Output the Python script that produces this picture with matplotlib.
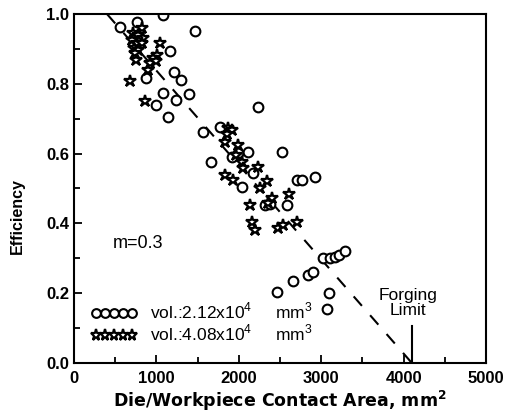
import numpy as np
import matplotlib
matplotlib.use("Agg")
import matplotlib.pyplot as plt

plt.rcParams['font.family'] = ['Liberation Sans', 'DejaVu Sans']
plt.rcParams['mathtext.fontset'] = 'custom'
plt.rcParams['mathtext.rm'] = 'Liberation Sans'

# volume 2.12x10^4 mm^3 (circles)
circ_area = [558, 765, 1085, 1468, 1165, 874, 1214, 1299, 1080, 1238, 1390, 995, 1141,
             2233, 1566, 1766, 1663, 1917, 1990, 2112, 2524, 2039, 2172, 2710, 2770,
             2930, 2318, 2379, 2591, 2464, 2658, 2834, 2906, 3095, 3070,
             3022, 3107, 3167, 3216, 3289]
circ_eff = [0.963, 0.977, 0.997, 0.951, 0.895, 0.817, 0.833, 0.812, 0.774, 0.754, 0.772, 0.739, 0.705,
            0.734, 0.661, 0.676, 0.576, 0.590, 0.602, 0.604, 0.604, 0.504, 0.544, 0.524, 0.524,
            0.533, 0.452, 0.457, 0.454, 0.203, 0.234, 0.252, 0.262, 0.201, 0.155,
            0.301, 0.301, 0.303, 0.310, 0.321]

# volume 4.08x10^4 mm^3 (stars)
star_area = [825, 716, 777, 837, 704, 765, 825, 728, 777, 740, 752, 680, 862,
             1044, 1007, 959, 922, 1000, 898,
             1869, 1917, 1857, 1833, 1990, 1966, 2039, 2051, 1833, 1930, 2233, 2136,
             2342, 2257, 2403, 2354, 2610, 2160, 2196, 2476, 2536, 2706]
star_eff = [0.960, 0.946, 0.940, 0.931, 0.925, 0.917, 0.917, 0.903, 0.897, 0.888, 0.868, 0.808, 0.751,
            0.917, 0.883, 0.874, 0.860, 0.866, 0.840,
            0.673, 0.668, 0.655, 0.633, 0.625, 0.596, 0.576, 0.559, 0.539, 0.524, 0.562, 0.453,
            0.521, 0.501, 0.473, 0.458, 0.485, 0.404, 0.381, 0.387, 0.395, 0.404]

# fitted trend and forging limit
trend_area = [400, 4100]
trend_eff = [1.0, 0.0]
limit_area = 4100
limit_eff = [0.0, 0.105]

fig = plt.figure(figsize=(5.16, 4.15), dpi=100)
ax = fig.add_axes([74/516, 52/415, 412/516, 349/415])

ax.plot(trend_area, trend_eff, color='black', lw=1.5, dashes=(6, 6))
ax.plot([limit_area, limit_area], limit_eff, color='black', lw=1.5)

ax.plot(circ_area, circ_eff, 'o', ms=7, mfc='white', mec='black', mew=1.5,
        label='vol.:2.12x10$^4$     mm$^3$')
ax.plot(star_area, star_eff, '*', ms=9, mfc='white', mec='black', mew=1.6,
        label='vol.:4.08x10$^4$     mm$^3$')

ax.set_xlim(0, 5000)
ax.set_ylim(0, 1.0)
ax.set_xticks(np.arange(0, 5001, 1000))
ax.set_xticks(np.arange(0, 5001, 500), minor=True)
ax.set_yticks(np.arange(0, 1.01, 0.2))
ax.set_yticks(np.arange(0, 1.01, 0.1), minor=True)
ax.set_yticklabels(['%.1f' % v for v in np.arange(0, 1.01, 0.2)])
ax.tick_params(which='both', direction='in', width=1.3)
ax.tick_params(which='major', length=6, labelsize=12)
ax.tick_params(axis='x', which='major', pad=6)
ax.tick_params(which='minor', length=4)
for lab in ax.get_xticklabels() + ax.get_yticklabels():
    lab.set_fontweight('bold')
for sp in ax.spines.values():
    sp.set_linewidth(1.5)

ax.set_xlabel('Die/Workpiece Contact Area, mm$^\\mathbf{2}$', fontsize=12.5, fontweight='bold',
              labelpad=2, family=['DejaVu Sans'])
ax.set_ylabel('Efficiency', fontsize=11.5, fontweight='bold')
ax.yaxis.set_label_coords(-0.12, 0.42)

ax.text(470, 0.33, 'm=0.3', fontsize=13)
ax.text(limit_area - 50, 0.13, 'Forging\nLimit', fontsize=12.5, ha='center', va='bottom',
        linespacing=1.0)

leg = ax.legend(loc='lower left', bbox_to_anchor=(0.024, 0.035), frameon=False, numpoints=5,
                handlelength=2.7, handletextpad=0.7, labelspacing=0.08, fontsize=12.5,
                markerscale=0.9, borderaxespad=0)

fig.savefig('out.png', dpi=100)
